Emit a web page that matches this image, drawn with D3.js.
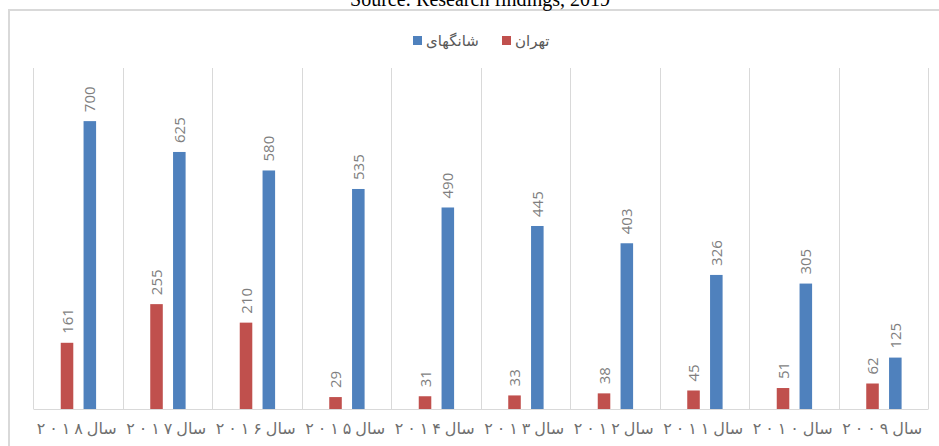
<!DOCTYPE html>
<html>
<head>
<meta charset="utf-8">
<title>Tehran vs Shanghai</title>
<style>
  body { margin: 0; background: #fff; }
  svg { display: block; }
</style>
</head>
<body>
<div id="chart"></div>
<script src="https://d3js.org/d3.v7.min.js"></script>
<script>
(function(d3) {
  'use strict';

  // categories, left to right as in the figure (RTL order)
  var years = ['۲۰۱۸', '۲۰۱۷', '۲۰۱۶', '۲۰۱۵', '۲۰۱۴', '۲۰۱۳', '۲۰۱۲', '۲۰۱۱', '۲۰۱۰', '۲۰۰۹'];
  var seriesNames = ['تهران', 'شانگهای'];
  var tehran = [161, 255, 210, 29, 31, 33, 38, 45, 51, 62];
  var shanghai = [700, 625, 580, 535, 490, 445, 403, 326, 305, 125];
  var colors = ['#c0504d', '#4f81bd'];

  var width = 939, height = 446;
  var left = 33, right = 928, top = 68, bottom = 409;

  var svg = d3.select('#chart').append('svg')
    .attr('width', width)
    .attr('height', height);

  // chart frame
  svg.append('rect')
    .attr('x', 9).attr('y', 10)
    .attr('width', 960).attr('height', 460)
    .attr('fill', 'none')
    .attr('stroke', '#d9d9d9')
    .attr('stroke-width', 2);

  // caption, cut off at the top
  svg.append('text')
    .attr('x', 480).attr('y', 6)
    .attr('text-anchor', 'middle')
    .style('font-family', '"Liberation Serif", serif')
    .style('font-size', '20px')
    .style('fill', '#000')
    .text('Source: Research findings, 2019');

  var x = d3.scaleBand().domain(years).range([left, right]).padding(0);
  var cw = x.bandwidth();
  var x1 = d3.scaleBand().domain(seriesNames)
    .range([cw * 0.31, cw * 0.705])
    .paddingInner(0.45).paddingOuter(0);
  var y = d3.scaleLinear().domain([0, 800]).range([bottom, 80]);

  // category separators
  svg.append('g').selectAll('line')
    .data(years.slice(0).concat(['end']))
    .enter().append('line')
    .attr('x1', function(d, i) { return Math.round(left + i * cw) + 0.5; })
    .attr('x2', function(d, i) { return Math.round(left + i * cw) + 0.5; })
    .attr('y1', top)
    .attr('y2', bottom)
    .attr('stroke', '#d9d9d9')
    .attr('stroke-width', 1);

  var rows = years.map(function(yr, i) {
    return { year: yr, values: [tehran[i], shanghai[i]] };
  });

  var groups = svg.append('g').selectAll('g')
    .data(rows)
    .enter().append('g')
    .attr('transform', function(d) { return 'translate(' + x(d.year) + ',0)'; });

  groups.selectAll('rect')
    .data(function(d) { return d.values.map(function(v, j) { return { name: seriesNames[j], value: v, k: j }; }); })
    .enter().append('rect')
    .attr('x', function(d) { return x1(d.name); })
    .attr('y', function(d) { return y(d.value); })
    .attr('width', x1.bandwidth())
    .attr('height', function(d) { return bottom - y(d.value); })
    .attr('fill', function(d) { return colors[d.k]; });

  groups.selectAll('text')
    .data(function(d) { return d.values.map(function(v, j) { return { name: seriesNames[j], value: v }; }); })
    .enter().append('text')
    .attr('transform', function(d) {
      return 'translate(' + (x1(d.name) + x1.bandwidth() / 2 + 5.5) + ',' + (y(d.value) - 9) + ') rotate(-90)';
    })
    .style('font-family', '"Open Sans", sans-serif')
    .style('font-size', '15px')
    .style('fill', '#7f7f7f')
    .text(function(d) { return d.value; });

  // baseline axis; digits are spaced out one by one like the original
  var xAxis = d3.axisBottom(x).tickSize(0).tickSizeOuter(0).tickPadding(14);
  var ax = svg.append('g')
    .attr('transform', 'translate(0,' + bottom + ')')
    .call(xAxis);
  ax.select('.domain').attr('stroke', '#d9d9d9');
  ax.selectAll('text').each(function(d) {
    var t = d3.select(this);
    t.text(null)
      .attr('text-anchor', 'start')
      .style('font-family', '"DejaVu Sans", sans-serif')
      .style('font-size', '16px')
      .style('fill', '#6f6f6f');
    d.split('').forEach(function(ch, k) {
      t.append('tspan').attr('x', -41 + k * 12.5).text(ch);
    });
    t.append('tspan').attr('x', 9).text('سال');
  });

  // legend
  var legendX = [502, 413];
  var legend = svg.append('g').selectAll('g')
    .data(seriesNames)
    .enter().append('g')
    .attr('transform', function(d, i) { return 'translate(' + legendX[i] + ',36)'; });
  legend.append('rect')
    .attr('width', 9).attr('height', 9)
    .attr('fill', function(d, i) { return colors[i]; });
  legend.append('text')
    .attr('x', 13).attr('y', 10)
    .style('font-family', '"DejaVu Sans", sans-serif')
    .style('font-size', '15px')
    .style('fill', '#595959')
    .text(function(d) { return d; });

})(window.d3);
</script>
</body>
</html>
